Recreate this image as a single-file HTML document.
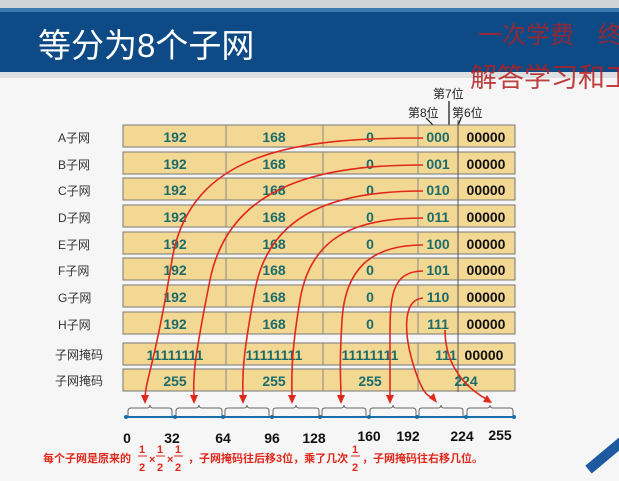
<!DOCTYPE html>
<html><head><meta charset="utf-8"><style>
html,body{margin:0;padding:0;background:#f4f5f4;}
svg{display:block}
text{font-family:"Liberation Sans","Noto Sans CJK SC",sans-serif;}
</style></head><body>
<svg width="619" height="481" viewBox="0 0 619 481">
<rect width="619" height="481" fill="#f5f6f5"/>
<rect y="0" width="619" height="8" fill="#cfd3d6"/>
<rect y="8" width="619" height="64" fill="#0d4a86"/>
<rect y="8" width="619" height="4" fill="#3a78b0"/>
<rect y="72" width="619" height="6" fill="#dde0e2"/>
<text x="38" y="57" font-size="33" fill="#fff">等分为8个子网</text>
<text x="478" y="43" font-size="24" fill="#b62020" opacity="0.8" font-family="'Noto Serif CJK SC',serif">一次学费　终</text>
<text x="470" y="87" font-size="27" fill="#b62020" opacity="0.85" font-family="'Noto Serif CJK SC',serif">解答学习和工</text>
<text x="433" y="98" font-size="12" fill="#222">第7位</text>
<text x="408" y="117" font-size="12" fill="#222">第8位</text>
<text x="452" y="117" font-size="12" fill="#222">第6位</text>
<line x1="449" y1="101" x2="449" y2="135" stroke="#111" stroke-width="1.2"/>
<line x1="426" y1="118" x2="441" y2="133" stroke="#111" stroke-width="1.2"/>
<line x1="461" y1="118" x2="455" y2="133" stroke="#111" stroke-width="1.2"/>
<g font-size="12" fill="#333">
<text x="58" y="142">A子网</text><text x="58" y="169">B子网</text><text x="58" y="195">C子网</text><text x="58" y="222">D子网</text>
<text x="58" y="249">E子网</text><text x="58" y="275">F子网</text><text x="58" y="302">G子网</text><text x="58" y="329">H子网</text>
<text x="55" y="359">子网掩码</text><text x="55" y="385">子网掩码</text>
</g>
<g stroke="#777" stroke-width="1" fill="#f3d894">
<rect x="123" y="125" width="392" height="22"/><rect x="123" y="152" width="392" height="22"/>
<rect x="123" y="178" width="392" height="22"/><rect x="123" y="205" width="392" height="22"/>
<rect x="123" y="232" width="392" height="22"/><rect x="123" y="258" width="392" height="22"/>
<rect x="123" y="285" width="392" height="22"/><rect x="123" y="312" width="392" height="22"/>
<rect x="123" y="343" width="392" height="22"/><rect x="123" y="369" width="392" height="22"/>
</g>
<g stroke="#888" stroke-width="1">
<path d="M226 125V147M323 125V147M418 125V147M226 152V174M323 152V174M418 152V174M226 178V200M323 178V200M418 178V200M226 205V227M323 205V227M418 205V227M226 232V254M323 232V254M418 232V254M226 258V280M323 258V280M418 258V280M226 285V307M323 285V307M418 285V307M226 312V334M323 312V334M418 312V334M226 343V365M323 343V365M418 343V365M226 369V391M323 369V391M418 369V391"/>
</g>
<line x1="458" y1="120" x2="458" y2="392" stroke="#555" stroke-width="1"/>
<g font-weight="bold" font-size="14" fill="#1b6b6b" text-anchor="middle">
<text x="175" y="142">192</text><text x="274" y="142">168</text><text x="370" y="142">0</text><text x="438" y="142">000</text>
<text x="175" y="169">192</text><text x="274" y="169">168</text><text x="370" y="169">0</text><text x="438" y="169">001</text>
<text x="175" y="195">192</text><text x="274" y="195">168</text><text x="370" y="195">0</text><text x="438" y="195">010</text>
<text x="175" y="222">192</text><text x="274" y="222">168</text><text x="370" y="222">0</text><text x="438" y="222">011</text>
<text x="175" y="249">192</text><text x="274" y="249">168</text><text x="370" y="249">0</text><text x="438" y="249">100</text>
<text x="175" y="275">192</text><text x="274" y="275">168</text><text x="370" y="275">0</text><text x="438" y="275">101</text>
<text x="175" y="302">192</text><text x="274" y="302">168</text><text x="370" y="302">0</text><text x="438" y="302">110</text>
<text x="175" y="329">192</text><text x="274" y="329">168</text><text x="370" y="329">0</text><text x="438" y="329">111</text>
<text x="175" y="360">11111111</text><text x="274" y="360">11111111</text><text x="370" y="360">11111111</text><text x="446" y="360">111</text>
<text x="175" y="386">255</text><text x="274" y="386">255</text><text x="370" y="386">255</text><text x="466" y="386">224</text>
</g>
<g font-weight="bold" font-size="14" fill="#111" text-anchor="middle">
<text x="486" y="142">00000</text><text x="486" y="169">00000</text><text x="486" y="195">00000</text><text x="486" y="222">00000</text>
<text x="486" y="249">00000</text><text x="486" y="275">00000</text><text x="486" y="302">00000</text><text x="486" y="329">00000</text>
<text x="484" y="360">00000</text>
</g>
<g fill="none" stroke="#e0281c" stroke-width="1.6">
<path d="M423 138C300 138 190 150 172 260S145 380 145 400"/>
<path d="M423 165C330 165 230 180 210 280S194 380 194 400"/>
<path d="M423 191C340 191 270 210 255 290S243 380 243 400"/>
<path d="M423 218C350 218 310 240 300 300S292 380 292 400"/>
<path d="M423 245C370 245 345 270 342 320S341 380 341 400"/>
<path d="M423 271C390 271 390 300 390 340S390 385 390 400"/>
<path d="M423 298C400 300 405 340 415 370S430 395 435 400"/>
<path d="M445 330C445 360 460 385 488 400"/>
</g>
<g fill="#e0281c">
<path d="M145 404l-4-9h8z"/><path d="M194 404l-4-9h8z"/><path d="M243 404l-4-9h8z"/><path d="M292 404l-4-9h8z"/>
<path d="M341 404l-4-9h8z"/><path d="M390 404l-4-9h8z"/><path d="M437 403l-8-5 5-5z"/><path d="M492 403l-9-1 4-7z"/>
</g>
<g fill="none" stroke="#666" stroke-width="1">
<path d="M128 417v-6q0-3 3-3h16q3 0 3-3q0 3 3 3h16q3 0 3 3v6"/>
<path d="M176 417v-6q0-3 3-3h17q3 0 3-3q0 3 3 3h17q3 0 3 3v6"/>
<path d="M225 417v-6q0-3 3-3h16q3 0 3-3q0 3 3 3h16q3 0 3 3v6"/>
<path d="M273 417v-6q0-3 3-3h17q3 0 3-3q0 3 3 3h17q3 0 3 3v6"/>
<path d="M322 417v-6q0-3 3-3h16q3 0 3-3q0 3 3 3h16q3 0 3 3v6"/>
<path d="M370 417v-6q0-3 3-3h17q3 0 3-3q0 3 3 3h17q3 0 3 3v6"/>
<path d="M419 417v-6q0-3 3-3h16q3 0 3-3q0 3 3 3h16q3 0 3 3v6"/>
<path d="M467 417v-6q0-3 3-3h17q3 0 3-3q0 3 3 3h17q3 0 3 3v6"/>
</g>
<line x1="126" y1="417" x2="514" y2="417" stroke="#1a6fa8" stroke-width="2"/>
<g fill="#1a6fa8"><circle cx="126" cy="417" r="2"/><circle cx="175" cy="417" r="2"/><circle cx="223" cy="417" r="2"/><circle cx="272" cy="417" r="2"/><circle cx="320" cy="417" r="2"/><circle cx="369" cy="417" r="2"/><circle cx="417" cy="417" r="2"/><circle cx="466" cy="417" r="2"/><circle cx="514" cy="417" r="2"/></g>
<g font-weight="bold" font-size="14" fill="#111" text-anchor="middle">
<text x="127" y="443">0</text><text x="172" y="443">32</text><text x="223" y="443">64</text><text x="272" y="443">96</text><text x="314" y="443">128</text>
<text x="369" y="441">160</text><text x="408" y="441">192</text><text x="462" y="441">224</text><text x="500" y="440">255</text>
</g>
<g font-weight="bold" font-size="11" fill="#e0281c">
<text x="43" y="462">每个子网是原来的</text>
<text x="139" y="453" font-size="11">1</text><text x="139" y="471" font-size="11">2</text><line x1="138" y1="456" x2="147" y2="456" stroke="#e0281c"/>
<text x="149" y="463">×</text>
<text x="157" y="453" font-size="11">1</text><text x="157" y="471" font-size="11">2</text><line x1="156" y1="456" x2="165" y2="456" stroke="#e0281c"/>
<text x="167" y="463">×</text>
<text x="175" y="453" font-size="11">1</text><text x="175" y="471" font-size="11">2</text><line x1="174" y1="456" x2="183" y2="456" stroke="#e0281c"/>
<text x="188" y="462">，子网掩码往后移3位，乘了几次</text>
<text x="352" y="453" font-size="11">1</text><text x="352" y="471" font-size="11">2</text><line x1="351" y1="456" x2="360" y2="456" stroke="#e0281c"/>
<text x="362" y="462">，子网掩码往右移几位。</text>
</g>
<g transform="rotate(-40 600 460)"><rect x="585" y="455" width="45" height="10" fill="#1d5aa0"/></g>
</svg>
</body></html>
